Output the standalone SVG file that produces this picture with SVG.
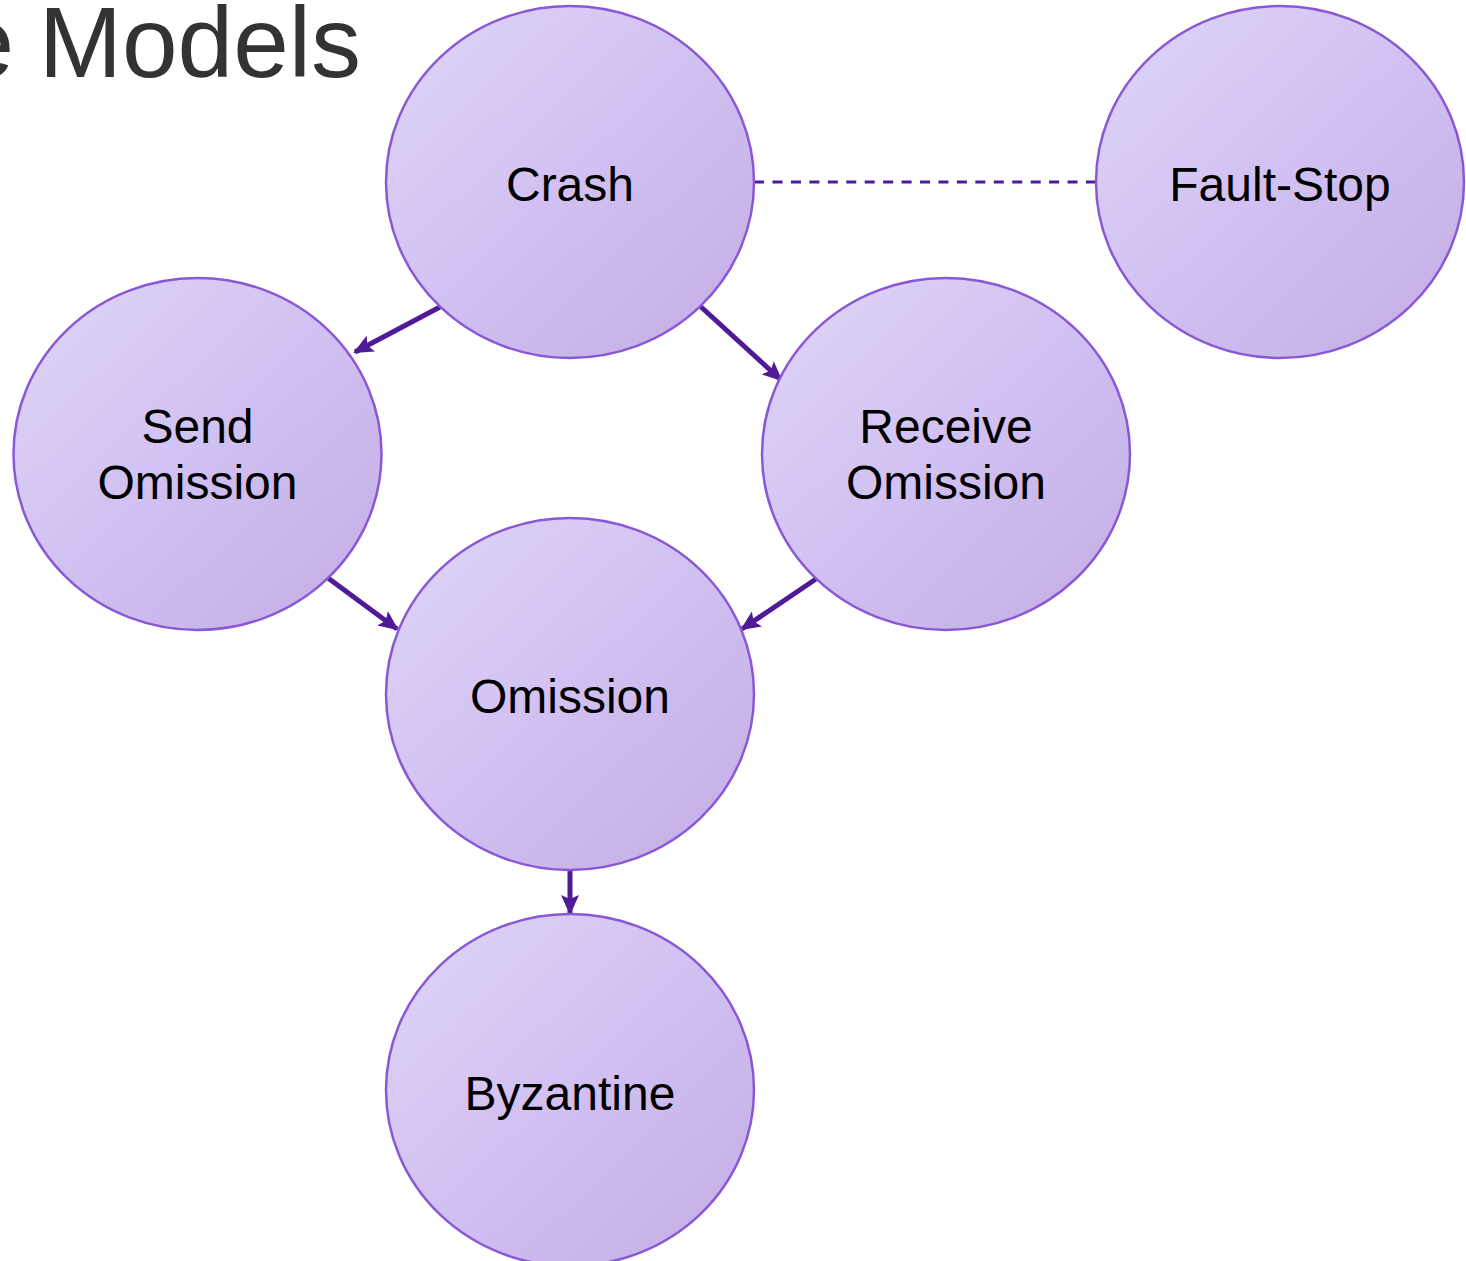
<svg xmlns="http://www.w3.org/2000/svg" width="1466" height="1261" viewBox="0 0 1466 1261">
  <style>
    .node { fill: url(#bubble); stroke: #8a58d6; stroke-width: 2.5; }
    .label { font-family: "Liberation Sans", Arial, sans-serif; font-size: 48px; fill: #000; text-anchor: middle; }
    .edge { stroke: #4e1a98; stroke-width: 5; fill: none; marker-end: url(#head); }
    .dashed { stroke: #4e1a98; stroke-width: 3; fill: none; stroke-dasharray: 10 8.44; }
    .title { font-family: "Liberation Sans", Arial, sans-serif; font-size: 100px; fill: #333333; text-anchor: end; }
  </style>
  <defs>
    <linearGradient id="bubble" x1="0" y1="0" x2="1" y2="1">
      <stop offset="0" stop-color="#e0d6f6"/>
      <stop offset="0.5" stop-color="#d1c0f2"/>
      <stop offset="1" stop-color="#c2ade4"/>
    </linearGradient>
    <marker id="head" markerUnits="userSpaceOnUse" markerWidth="20" markerHeight="18" refX="18" refY="9" orient="auto">
      <path d="M0,0 L20,9 L0,18 L4,9 Z" fill="#4e1a98"/>
    </marker>
  </defs>

  <rect width="1466" height="1261" fill="#ffffff"/>

  <text class="title" y="77"><tspan x="14">Failure</tspan><tspan x="361">Models</tspan></text>

  <g id="connectors">
    <line class="dashed" x1="1096" y1="182" x2="754" y2="182"/>
    <line class="edge" x1="440" y1="307" x2="355" y2="352"/>
    <line class="edge" x1="700" y1="306" x2="781" y2="380"/>
    <line class="edge" x1="328" y1="578" x2="397" y2="629"/>
    <line class="edge" x1="816" y1="579" x2="742" y2="629"/>
    <line class="edge" x1="570" y1="870" x2="570" y2="913"/>
  </g>

  <g id="crash">
    <ellipse class="node" cx="570" cy="182" rx="184" ry="176"/>
    <text class="label" x="570" y="201">Crash</text>
  </g>
  <g id="fault-stop">
    <ellipse class="node" cx="1280" cy="182" rx="184" ry="176"/>
    <text class="label" x="1280" y="201">Fault-Stop</text>
  </g>
  <g id="send-omission">
    <ellipse class="node" cx="197.5" cy="454" rx="184" ry="176"/>
    <text class="label" x="197.5" y="443">Send</text>
    <text class="label" x="197.5" y="499">Omission</text>
  </g>
  <g id="receive-omission">
    <ellipse class="node" cx="946" cy="454" rx="184" ry="176"/>
    <text class="label" x="946" y="443">Receive</text>
    <text class="label" x="946" y="499">Omission</text>
  </g>
  <g id="omission">
    <ellipse class="node" cx="570" cy="694" rx="184" ry="176"/>
    <text class="label" x="570" y="713">Omission</text>
  </g>
  <g id="byzantine">
    <ellipse class="node" cx="570" cy="1090" rx="184" ry="176"/>
    <text class="label" x="570" y="1110">Byzantine</text>
  </g>
</svg>
